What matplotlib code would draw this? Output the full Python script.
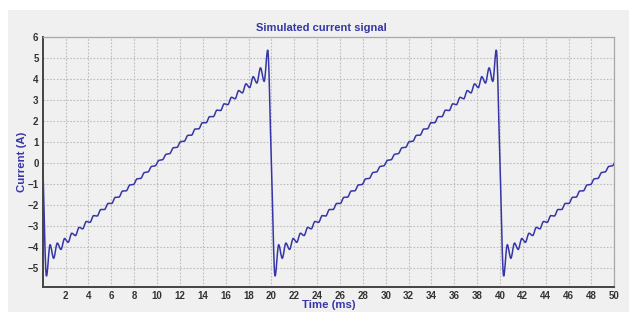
import numpy as np
import matplotlib.pyplot as plt
from matplotlib.patches import Rectangle, PathPatch
from matplotlib.path import Path

# One period of the signal (ms, A) at the ripple extremes
cycle_t = [0.0, 0.32, 0.64, 0.95, 1.27, 1.59, 1.91, 2.22, 2.54, 2.86, 3.18,
           3.49, 3.81, 4.13, 4.45, 4.76, 5.08, 5.40, 5.72, 6.03, 6.35,
           6.67, 6.98, 7.30, 7.62, 7.94, 8.25, 8.57, 8.89, 9.21, 9.52,
           9.84, 10.16, 10.48, 10.79, 11.11, 11.43, 11.75, 12.06, 12.38, 12.70,
           13.02, 13.33, 13.65, 13.97, 14.29, 14.60, 14.92, 15.24, 15.56, 15.87,
           16.19, 16.51, 16.83, 17.14, 17.46, 17.78, 18.10, 18.41, 18.73, 19.05,
           19.37, 19.68]
cycle_i = [0.0, -5.38, -3.89, -4.53, -3.81, -4.11, -3.59, -3.77, -3.34, -3.45, -3.06,
           -3.13, -2.78, -2.82, -2.50, -2.52, -2.21, -2.21, -1.92, -1.92, -1.63,
           -1.62, -1.33, -1.32, -1.04, -1.02, -0.75, -0.73, -0.45, -0.42, -0.16,
           -0.13, 0.13, 0.16, 0.42, 0.45, 0.73, 0.75, 1.02, 1.04, 1.32,
           1.33, 1.62, 1.63, 1.92, 1.92, 2.21, 2.21, 2.52, 2.50, 2.82,
           2.78, 3.13, 3.06, 3.45, 3.34, 3.77, 3.59, 4.11, 3.81, 4.53,
           3.89, 5.38]
cycle_starts = [0, 20, 40]

x_ticks = list(range(2, 51, 2))
y_ticks = list(range(-5, 7))

blue = "#3636a6"
panel = "#f0f0f0"
font = "Liberation Sans"


def smooth_path(x, y):
    # bezier path through the points, flat at the peaks (pchip style tangents)
    h = np.diff(x)
    d = np.diff(y) / h
    m = np.zeros_like(y)
    m[0], m[-1] = d[0], d[-1]
    for k in range(1, len(x) - 1):
        if d[k - 1] * d[k] > 0:
            w1 = 2 * h[k] + h[k - 1]
            w2 = h[k] + 2 * h[k - 1]
            m[k] = (w1 + w2) / (w1 / d[k - 1] + w2 / d[k])
    verts = [(x[0], y[0])]
    codes = [Path.MOVETO]
    for k in range(len(x) - 1):
        verts += [(x[k] + h[k] / 3, y[k] + m[k] * h[k] / 3),
                  (x[k + 1] - h[k] / 3, y[k + 1] - m[k + 1] * h[k] / 3),
                  (x[k + 1], y[k + 1])]
        codes += [Path.CURVE4] * 3
    return Path(verts, codes)


t = np.concatenate([np.array(cycle_t) + s for s in cycle_starts])
cur = np.concatenate([np.array(cycle_i) for s in cycle_starts])

fig = plt.figure(figsize=(6.29, 3.12), dpi=100)
fig.patch.set_facecolor("white")
fig.patches.append(Rectangle((8 / 629, 0), 1 - 8 / 629, 1 - 10 / 312,
                             transform=fig.transFigure, facecolor=panel,
                             edgecolor="none", zorder=-1))

ax = fig.add_axes([0.068, 0.080, 0.9086, 0.8014])
ax.set_facecolor(panel)
ax.add_patch(PathPatch(smooth_path(t, cur), fill=False, edgecolor=blue,
                       linewidth=1.1))

ax.set_xlim(0, 50)
ax.set_ylim(-5.9, 6)
ax.set_xticks(x_ticks)
ax.set_yticks(y_ticks)
ax.grid(True, color="#bdbdbd", linestyle=(0, (1.5, 1.5)), linewidth=0.8)
ax.set_axisbelow(True)

for side in ("left", "bottom"):
    ax.spines[side].set_color("#444444")
    ax.spines[side].set_linewidth(1.4)
for side in ("top", "right"):
    ax.spines[side].set_color("#a8a8a8")
    ax.spines[side].set_linewidth(0.9)

ax.tick_params(length=0, pad=3, labelsize=7, labelcolor="#333333")
for lab in ax.get_xticklabels() + ax.get_yticklabels():
    lab.set_fontweight("bold")
    lab.set_family(font)

ax.set_title("Simulated current signal", color=blue, fontsize=8,
             fontweight="bold", family=font, pad=4, x=0.488)
ax.set_xlabel("Time (ms)", color=blue, fontsize=8.2, fontweight="bold",
              family=font, labelpad=-1)
ax.set_ylabel("Current (A)", color=blue, fontsize=8.2, fontweight="bold",
              family=font)
ax.yaxis.set_label_coords(-0.028, 0.5)

fig.savefig("out.png", dpi=100, facecolor=fig.get_facecolor())
